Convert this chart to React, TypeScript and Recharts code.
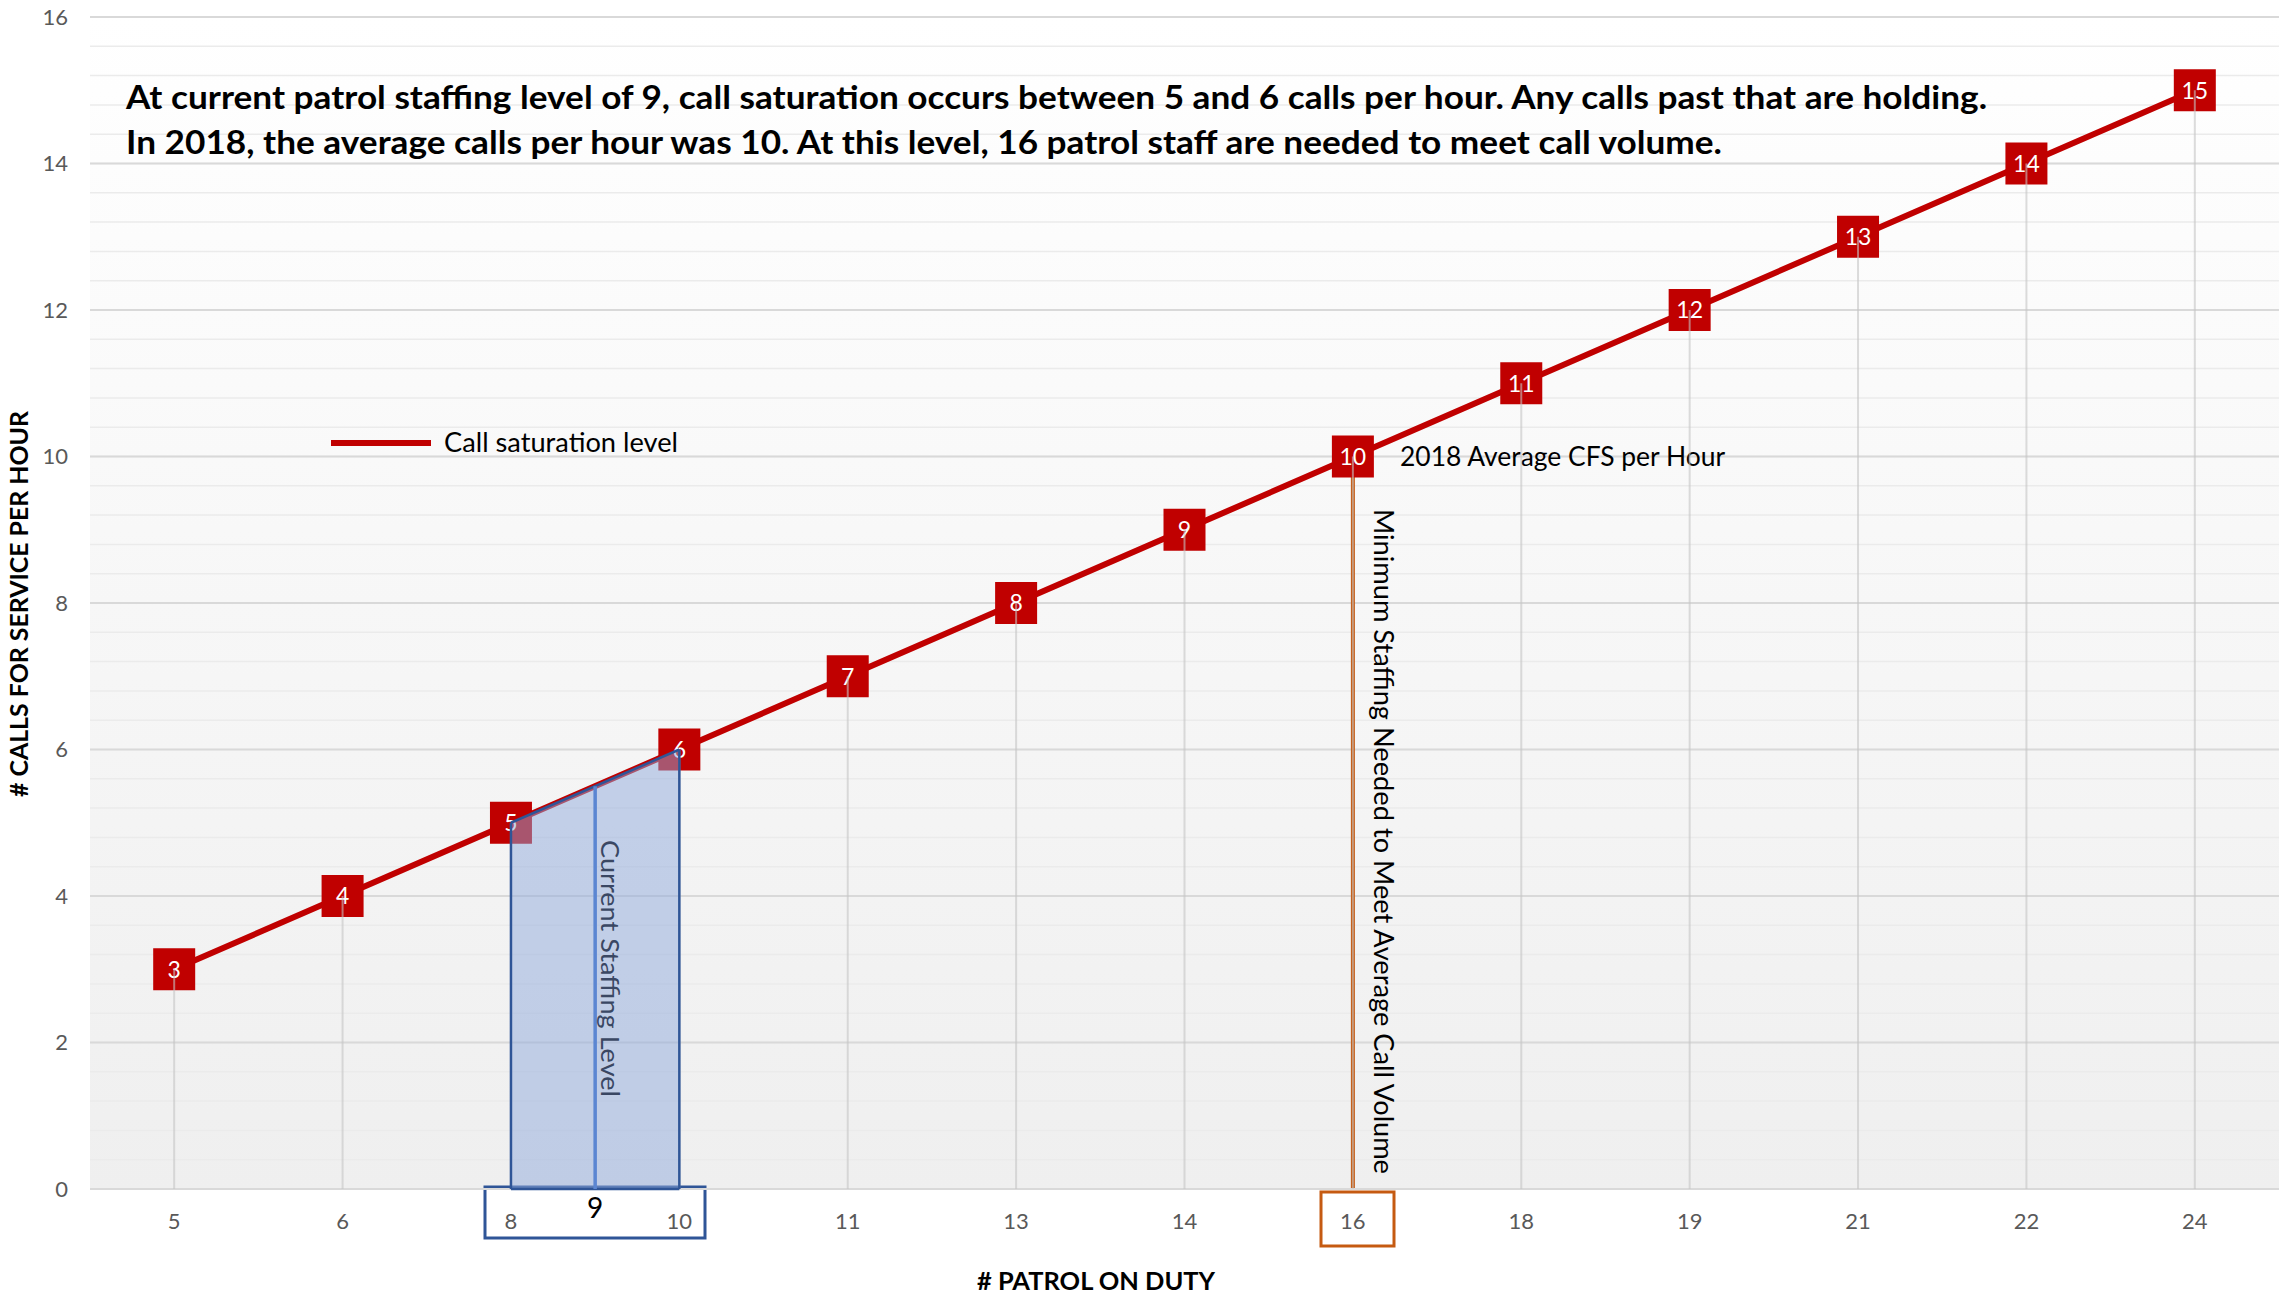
import React from 'react';
import {
  ComposedChart,
  Line,
  Area,
  XAxis,
  YAxis,
  CartesianGrid,
  ReferenceLine,
  Legend,
} from 'recharts';

// categories (x axis) and the call saturation series
const patrolOnDuty = [5, 6, 8, 10, 11, 13, 14, 16, 18, 19, 21, 22, 24];
const callsPerHour = [3, 4, 5, 6, 7, 8, 9, 10, 11, 12, 13, 14, 15];
const yTicks = [0, 2, 4, 6, 8, 10, 12, 14, 16];

const currentStaffRange = [8, 10];
const currentStaffLevel = 9;
const minStaffNeeded = 16;
const avgCalls2018 = 10;

const W = 2279;
const H = 1304;
const FONT = "Lato, 'Open Sans', sans-serif";
const RED = '#C00000';
const ORANGE = '#C55A11';
const BLUE_DARK = '#2F5597';

// fractional category position for a staffing value (9 sits between 8 and 10)
const posOf = (p: number) => {
  for (let i = 0; i < patrolOnDuty.length - 1; i++) {
    const a = patrolOnDuty[i];
    const b = patrolOnDuty[i + 1];
    if (p >= a && p <= b) return i + (p - a) / (b - a);
  }
  return patrolOnDuty.indexOf(p);
};
const callsAt = (pos: number) => {
  const i = Math.floor(pos);
  const f = pos - i;
  if (f === 0) return callsPerHour[i];
  return callsPerHour[i] + (callsPerHour[i + 1] - callsPerHour[i]) * f;
};

const data = patrolOnDuty.map((p, i) => ({
  idx: i,
  patrol: p,
  calls: callsPerHour[i],
  staffing: p >= currentStaffRange[0] && p <= currentStaffRange[1] ? callsPerHour[i] : null,
}));

const minorValues = Array.from({ length: 41 }, (_, k) => +(k * 0.4).toFixed(1));
const lowIdx = posOf(currentStaffRange[0]);
const highIdx = posOf(currentStaffRange[1]);
const curIdx = posOf(currentStaffLevel);
const minIdx = posOf(minStaffNeeded);
const xTicks = [...data.map((d) => d.idx), curIdx].sort((a, b) => a - b);

const XTick = (props: any) => {
  const { x, y, payload } = props;
  const v = payload.value;
  if (v === curIdx) {
    return (
      <text x={x} y={y + 29} textAnchor="middle" fontSize={28} fill="#000" fontFamily={FONT}>
        {currentStaffLevel}
      </text>
    );
  }
  return (
    <text x={x} y={y + 40} textAnchor="middle" fontSize={22} fill="#595959" fontFamily={FONT}>
      {patrolOnDuty[v]}
    </text>
  );
};

const Marker = (props: any) => {
  const { cx, cy, payload, index } = props;
  if (cx == null || cy == null) return null;
  return (
    <g key={`m-${index}`}>
      <rect x={cx - 21} y={cy - 21} width={42} height={42} fill={RED} />
      <text x={cx} y={cy} dy="0.36em" textAnchor="middle" fontSize={23} fill="#fff" fontFamily={FONT}>
        {payload.calls}
      </text>
    </g>
  );
};

const StaffingLabel = (props: any) => {
  const { viewBox } = props;
  if (!viewBox) return null;
  return (
    <text
      transform={`translate(${viewBox.x + 6},840) rotate(90)`}
      fontSize={25}
      fontFamily={FONT}
      fill="#3A4763"
      textLength={257}
      lengthAdjust="spacingAndGlyphs"
    >
      Current Staffing Level
    </text>
  );
};

const LegendBox = () => (
  <svg width={360} height={40}>
    <line x1={0} x2={100} y1={17} y2={17} stroke={RED} strokeWidth={6} />
    <text x={113} y={26} fontSize={26} fontFamily={FONT} fill="#000" textLength={234} lengthAdjust="spacingAndGlyphs">
      Call saturation level
    </text>
  </svg>
);

export default function App() {
  return (
    <div style={{ width: W, height: H }}>
      <style>{'body{margin:0}'}</style>
      <ComposedChart width={W} height={H} data={data} margin={{ top: 17, right: 0, bottom: 0, left: 0 }}>
        <defs>
          <linearGradient id="plotBg" x1="0" y1="0" x2="0" y2="1">
            <stop offset="0%" stopColor="#ffffff" />
            <stop offset="100%" stopColor="#efefef" />
          </linearGradient>
        </defs>
        <CartesianGrid
          fill="url(#plotBg)"
          fillOpacity={1}
          vertical={false}
          horizontalValues={minorValues}
          stroke="#ebebeb"
          strokeWidth={1.5}
        />
        <CartesianGrid vertical={false} horizontalValues={yTicks} stroke="#d9d9d9" strokeWidth={2} />
        <XAxis
          dataKey="idx"
          type="number"
          domain={[-0.5, patrolOnDuty.length - 0.5]}
          ticks={xTicks}
          interval={0}
          height={115}
          tickSize={0}
          tickMargin={0}
          tickLine={false}
          axisLine={{ stroke: '#d9d9d9', strokeWidth: 2 }}
          tick={<XTick />}
        />
        <YAxis
          domain={[0, 16]}
          ticks={yTicks}
          width={90}
          tickSize={0}
          tickMargin={22}
          tickLine={false}
          axisLine={false}
          tick={{ fill: '#595959', fontSize: 22, fontFamily: FONT }}
        />
        <ReferenceLine
          segment={[{ x: minIdx, y: 0 }, { x: minIdx, y: avgCalls2018 }]}
          stroke={ORANGE}
          strokeWidth={4}
        />
        <Line
          type="linear"
          dataKey="calls"
          name="Call saturation level"
          stroke={RED}
          strokeWidth={6}
          dot={Marker}
          activeDot={false}
          isAnimationActive={false}
        />
        {data.map((d) => (
          <ReferenceLine
            key={`drop-${d.idx}`}
            segment={[{ x: d.idx, y: 0 }, { x: d.idx, y: d.calls }]}
            stroke="#c4c4c4"
            strokeOpacity={0.6}
            strokeWidth={2}
            zIndex={1800}
          />
        ))}
        <Area
          type="linear"
          dataKey="staffing"
          fill="#8FAADC"
          fillOpacity={0.5}
          stroke={BLUE_DARK}
          strokeWidth={2.5}
          dot={false}
          activeDot={false}
          legendType="none"
          isAnimationActive={false}
          zIndex={1900}
        />
        <ReferenceLine zIndex={1910} segment={[{ x: lowIdx, y: 0 }, { x: lowIdx, y: callsAt(lowIdx) }]} stroke={BLUE_DARK} strokeWidth={2.5} />
        <ReferenceLine zIndex={1910} segment={[{ x: highIdx, y: 0 }, { x: highIdx, y: callsAt(highIdx) }]} stroke={BLUE_DARK} strokeWidth={2.5} />
        <ReferenceLine zIndex={1910} segment={[{ x: lowIdx, y: 0 }, { x: highIdx, y: 0 }]} stroke={BLUE_DARK} strokeWidth={2.5} />
        <ReferenceLine
          zIndex={1920}
          segment={[{ x: curIdx, y: 0 }, { x: curIdx, y: callsAt(curIdx) }]}
          stroke="#5B86D2"
          strokeWidth={3.5}
          label={StaffingLabel}
        />
        <Legend
          content={LegendBox}
          layout="horizontal"
          verticalAlign="middle"
          align="center"
          wrapperStyle={{ left: 331, top: 426, width: 360, height: 40 }}
        />

        {/* annotations */}
        <text x={126} y={109} fontSize={33} fontWeight="bold" fontFamily={FONT} fill="#000" textLength={1861} lengthAdjust="spacingAndGlyphs">
          At current patrol staffing level of 9, call saturation occurs between 5 and 6 calls per hour. Any calls past that are holding.
        </text>
        <text x={126} y={154} fontSize={33} fontWeight="bold" fontFamily={FONT} fill="#000" textLength={1596} lengthAdjust="spacingAndGlyphs">
          In 2018, the average calls per hour was 10. At this level, 16 patrol staff are needed to meet call volume.
        </text>
        <text x={1400} y={466} fontSize={27} fontFamily={FONT} fill="#000" textLength={325} lengthAdjust="spacingAndGlyphs">
          2018 Average CFS per Hour
        </text>
        <text transform="translate(1374,509) rotate(90)" fontSize={27} fontFamily={FONT} fill="#000" textLength={665} lengthAdjust="spacingAndGlyphs">
          Minimum Staffing Needed to Meet Average Call Volume
        </text>
        <rect x={485} y={1187} width={220} height={51} fill="none" stroke={BLUE_DARK} strokeWidth={3} />
        <rect x={1321} y={1192} width={73} height={54} fill="none" stroke={ORANGE} strokeWidth={3} />
        <text transform="translate(28,604) rotate(-90)" textAnchor="middle" fontSize={24} fontWeight="bold" fontFamily={FONT} fill="#000" textLength={386} lengthAdjust="spacingAndGlyphs">
          # CALLS FOR SERVICE PER HOUR
        </text>
        <text x={1096} y={1290} textAnchor="middle" fontSize={24} fontWeight="bold" fontFamily={FONT} fill="#000" textLength={238} lengthAdjust="spacingAndGlyphs">
          # PATROL ON DUTY
        </text>
      </ComposedChart>
    </div>
  );
}
